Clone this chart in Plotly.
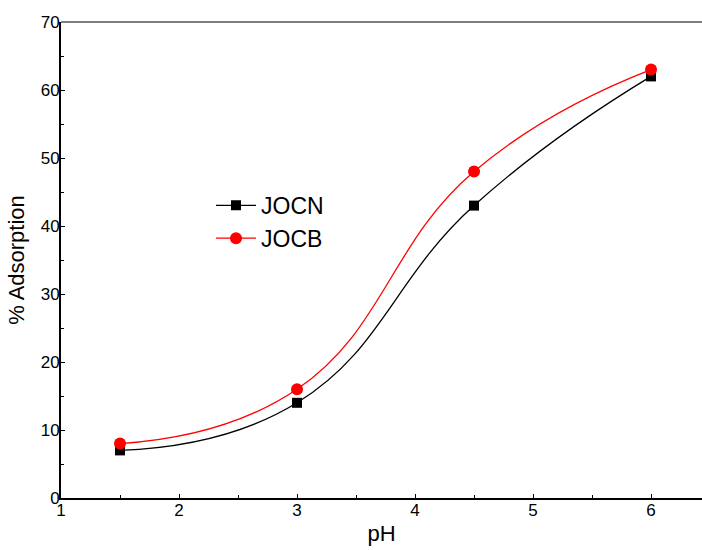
import plotly.graph_objects as go

# pH values and percentage adsorption for the two adsorbents
ph = [1.5, 3.0, 4.5, 6.0]
jocn = [7, 14, 43, 62]
jocb = [8, 16, 48, 63]

x_ticks = [1, 2, 3, 4, 5, 6]
y_ticks = [0, 10, 20, 30, 40, 50, 60, 70]

fig = go.Figure()
fig.add_trace(go.Scatter(
    x=ph, y=jocn, name="JOCN", mode="lines+markers",
    line=dict(color="black", width=1.3, shape="spline", smoothing=1.3),
    marker=dict(symbol="square", size=10, color="black"),
))
fig.add_trace(go.Scatter(
    x=ph, y=jocb, name="JOCB", mode="lines+markers",
    line=dict(color="red", width=1.3, shape="spline", smoothing=1.3),
    marker=dict(symbol="circle", size=12, color="red"),
))

axis_font = dict(family="Liberation Sans, Arial, sans-serif", size=17, color="black")

fig.update_layout(
    width=702, height=550,
    margin=dict(l=61, r=0, t=22, b=52),
    paper_bgcolor="white", plot_bgcolor="white",
    font=dict(family="Liberation Sans, Arial, sans-serif", color="black"),
    showlegend=True,
    legend=dict(
        x=0.234, y=0.66, xanchor="left", yanchor="top",
        bgcolor="rgba(0,0,0,0)", font=dict(size=23),
        itemwidth=40, tracegroupgap=0,
    ),
    xaxis=dict(
        range=[1, 6.432], tickvals=x_ticks, ticktext=[str(v) for v in x_ticks],
        showgrid=False, zeroline=False, showline=True, linecolor="black", linewidth=2,
        ticks="inside", ticklen=4, tickcolor="black",
        minor=dict(dtick=0.5, ticks="inside", ticklen=3, tickcolor="black"),
        tickfont=axis_font, ticklabelstandoff=-4,
        title=dict(text="pH", font=dict(size=22), standoff=6),
    ),
    yaxis=dict(
        range=[0, 70], tickvals=y_ticks, ticktext=[str(v) for v in y_ticks],
        showgrid=False, zeroline=False, showline=True, linecolor="black", linewidth=2,
        ticks="inside", ticklen=4, tickcolor="black",
        minor=dict(dtick=5, ticks="inside", ticklen=3, tickcolor="black"),
        tickfont=axis_font, ticklabelstandoff=-4,
        title=dict(text="% Adsorption", font=dict(size=22), standoff=10),
    ),
    shapes=[dict(type="line", xref="paper", yref="paper", x0=0, x1=1, y0=1, y1=1,
                 line=dict(color="#555555", width=1.5))],
)

fig.write_html("out.html")
